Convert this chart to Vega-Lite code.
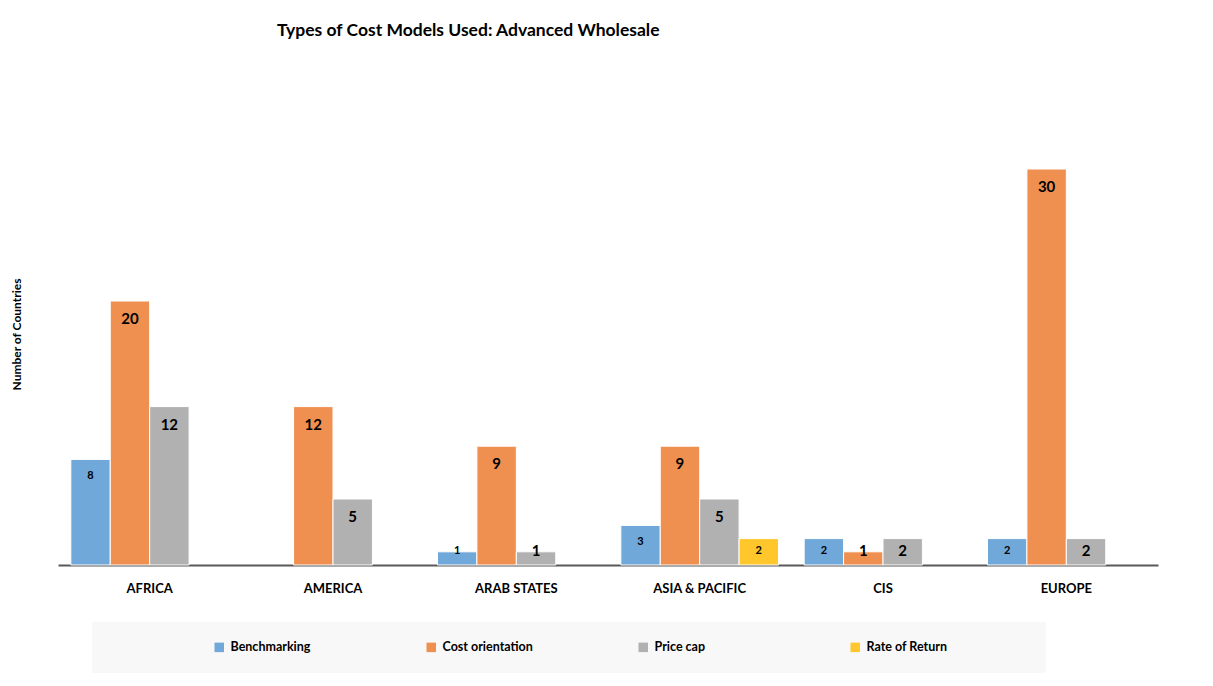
{
  "$schema": "https://vega.github.io/schema/vega-lite/v6.json",
  "width": 1100,
  "height": 462,
  "autosize": {"type": "none"},
  "padding": {"left": 58, "top": 103, "right": 55, "bottom": 121},
  "background": "white",
  "title": {
    "text": "Types of Cost Models Used: Advanced Wholesale",
    "anchor": "start",
    "dx": 267,
    "offset": 64,
    "font": "Lato",
    "fontSize": 17.5,
    "fontWeight": "bold",
    "color": "#000000"
  },
  "data": {
    "values": [
      {"region": "AFRICA", "type": "Benchmarking", "count": 8},
      {"region": "AFRICA", "type": "Cost orientation", "count": 20},
      {"region": "AFRICA", "type": "Price cap", "count": 12},
      {"region": "AMERICA", "type": "Cost orientation", "count": 12},
      {"region": "AMERICA", "type": "Price cap", "count": 5},
      {"region": "ARAB STATES", "type": "Benchmarking", "count": 1},
      {"region": "ARAB STATES", "type": "Cost orientation", "count": 9},
      {"region": "ARAB STATES", "type": "Price cap", "count": 1},
      {"region": "ASIA & PACIFIC", "type": "Benchmarking", "count": 3},
      {"region": "ASIA & PACIFIC", "type": "Cost orientation", "count": 9},
      {"region": "ASIA & PACIFIC", "type": "Price cap", "count": 5},
      {"region": "ASIA & PACIFIC", "type": "Rate of Return", "count": 2},
      {"region": "CIS", "type": "Benchmarking", "count": 2},
      {"region": "CIS", "type": "Cost orientation", "count": 1},
      {"region": "CIS", "type": "Price cap", "count": 2},
      {"region": "EUROPE", "type": "Benchmarking", "count": 2},
      {"region": "EUROPE", "type": "Cost orientation", "count": 30},
      {"region": "EUROPE", "type": "Price cap", "count": 2}
    ]
  },
  "encoding": {
    "x": {
      "field": "region",
      "type": "nominal",
      "sort": ["AFRICA", "AMERICA", "ARAB STATES", "ASIA & PACIFIC", "CIS", "EUROPE"],
      "scale": {"paddingInner": 0.14, "paddingOuter": 0.07},
      "axis": {
        "title": null,
        "labelAngle": 0,
        "labelFont": "Lato",
        "labelFontSize": 13,
        "labelFontWeight": "bold",
        "labelColor": "#000000",
        "labelPadding": 17,
        "ticks": false,
        "domainColor": "#595959",
        "domainWidth": 2
      }
    },
    "xOffset": {
      "field": "type",
      "type": "nominal",
      "scale": {"domain": ["Benchmarking", "Cost orientation", "Price cap", "Rate of Return"]}
    },
    "y": {
      "field": "count",
      "type": "quantitative",
      "scale": {"domain": [0, 35], "nice": false},
      "axis": {
        "title": "Number of Countries",
        "titleFont": "Lato",
        "titleFontSize": 12,
        "titleFontWeight": "bold",
        "titleColor": "#000000",
        "titlePadding": 35,
        "labels": false,
        "ticks": false,
        "domain": false,
        "grid": false
      }
    }
  },
  "layer": [
    {
      "mark": {"type": "bar", "stroke": "white", "strokeWidth": 1},
      "encoding": {
        "color": {
          "field": "type",
          "type": "nominal",
          "scale": {
            "domain": ["Benchmarking", "Cost orientation", "Price cap", "Rate of Return"],
            "range": ["#71a8da", "#ef9050", "#b1b1b1", "#ffc72c"]
          },
          "legend": {
            "orient": "none",
            "legendX": 34,
            "legendY": 519,
            "direction": "horizontal",
            "title": "\u00a0",
            "titleOrient": "right",
            "titlePadding": 80,
            "fillColor": "#f8f8f8",
            "padding": 19,
            "symbolType": "square",
            "symbolSize": 90,
            "symbolStrokeWidth": 0,
            "symbolOpacity": 1,
            "symbolOffset": 102,
            "labelOffset": 5,
            "labelFont": "Lato",
            "labelFontSize": 12.5,
            "labelFontWeight": "bold",
            "labelColor": "#000000",
            "gridAlign": "all",
            "columnPadding": 2
          }
        }
      }
    },
    {
      "transform": [{"filter": "datum.count >= 3"}],
      "mark": {"type": "text", "baseline": "top", "dy": 11, "font": "Lato", "fontWeight": "bold", "color": "#000000"},
      "encoding": {
        "text": {"field": "count", "type": "quantitative"},
        "size": {
          "condition": {"test": "datum.type == 'Benchmarking' || datum.type == 'Rate of Return'", "value": 11},
          "value": 15
        }
      }
    },
    {
      "transform": [{"filter": "datum.count < 3"}],
      "mark": {"type": "text", "baseline": "middle", "font": "Lato", "fontWeight": "bold", "color": "#000000"},
      "encoding": {
        "y": {"datum": 1.05, "type": "quantitative"},
        "text": {"field": "count", "type": "quantitative"},
        "size": {
          "condition": {"test": "datum.type == 'Benchmarking' || datum.type == 'Rate of Return'", "value": 11},
          "value": 15
        }
      }
    }
  ],
  "config": {"view": {"stroke": null}}
}
